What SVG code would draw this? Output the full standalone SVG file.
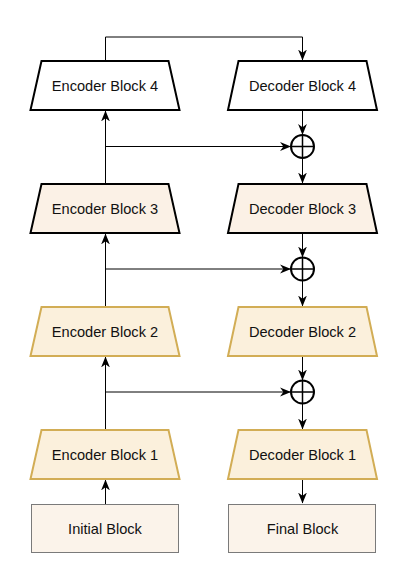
<svg xmlns="http://www.w3.org/2000/svg" width="408" height="586" viewBox="0 0 408 586">
<style>
  .lbl{font-family:"Liberation Sans",Arial,sans-serif;font-size:14.6px;fill:#111;text-anchor:middle;dominant-baseline:central}
  .t4{fill:#ffffff;stroke:#000;stroke-width:2}
  .t3{fill:#fbf1e6;stroke:#000;stroke-width:2}
  .ty{fill:#fbf0dc;stroke:#d2ad55;stroke-width:2}
  .rb{fill:#fbf3ea;stroke:#7a7a7a;stroke-width:1}
  .ring{fill:none;stroke:#000;stroke-width:2}
  .cross{fill:none;stroke:#000;stroke-width:1.5}
  .c{fill:none;stroke:#000;stroke-width:1;marker-end:url(#arr)}
</style>
<defs>
  <marker id="arr" viewBox="0 0 10 10" refX="9.5" refY="5" markerWidth="11" markerHeight="11" markerUnits="userSpaceOnUse" orient="auto">
    <path d="M0,1 L10,5 L0,9 L3,5 z" fill="#000"/>
  </marker>
</defs>
<rect width="408" height="586" fill="#fff"/>
<g id="connectors">
  <path class="c" d="M105.5,504 V480"/>
  <path class="c" d="M105.5,430 V357"/>
  <path class="c" d="M105.5,392 H290.5"/>
  <path class="c" d="M105.5,307 V234"/>
  <path class="c" d="M105.5,269 H290.5"/>
  <path class="c" d="M105.5,184 V111"/>
  <path class="c" d="M105.5,146.5 H290.5"/>
  <path class="c" d="M105.5,61 V37 H302.5 V60"/>
  <path class="c" d="M302.5,110 V134.5"/>
  <path class="c" d="M302.5,158 V183"/>
  <path class="c" d="M302.5,233 V257"/>
  <path class="c" d="M302.5,280.5 V306"/>
  <path class="c" d="M302.5,356 V380"/>
  <path class="c" d="M302.5,403.5 V429"/>
  <path class="c" d="M302.5,479 V503"/>
</g>
<g id="enc4"><path class="t4" d="M41.5,61 H168.5 L179.5,110 H30.5 Z"/><text class="lbl" x="105" y="86">Encoder Block 4</text></g>
<g id="dec4"><path class="t4" d="M238.5,61 H366.5 L377,110 H228 Z"/><text class="lbl" x="302.5" y="86">Decoder Block 4</text></g>
<g id="enc3"><path class="t3" d="M41.5,184 H168.5 L179.5,233 H30.5 Z"/><text class="lbl" x="105" y="209">Encoder Block 3</text></g>
<g id="dec3"><path class="t3" d="M238.5,184 H366.5 L377,233 H228 Z"/><text class="lbl" x="302.5" y="209">Decoder Block 3</text></g>
<g id="enc2"><path class="ty" d="M41.5,307 H168.5 L179.5,356 H30.5 Z"/><text class="lbl" x="105" y="332">Encoder Block 2</text></g>
<g id="dec2"><path class="ty" d="M238.5,307 H366.5 L377,356 H228 Z"/><text class="lbl" x="302.5" y="332">Decoder Block 2</text></g>
<g id="enc1"><path class="ty" d="M41.5,430 H168.5 L179.5,479 H30.5 Z"/><text class="lbl" x="105" y="455">Encoder Block 1</text></g>
<g id="dec1"><path class="ty" d="M238.5,430 H366.5 L377,479 H228 Z"/><text class="lbl" x="302.5" y="455">Decoder Block 1</text></g>
<g id="initial"><rect class="rb" x="31.5" y="504.5" width="147" height="48"/><text class="lbl" x="105" y="529">Initial Block</text></g>
<g id="final"><rect class="rb" x="228.5" y="504.5" width="147" height="48"/><text class="lbl" x="302.5" y="529">Final Block</text></g>
<g id="add4"><circle class="ring" cx="302.5" cy="146.5" r="11.5"/><path class="cross" d="M291,146.5 H314 M302.5,135 V158"/></g>
<g id="add3"><circle class="ring" cx="302.5" cy="269" r="11.5"/><path class="cross" d="M291,269 H314 M302.5,257.5 V280.5"/></g>
<g id="add2"><circle class="ring" cx="302.5" cy="392" r="11.5"/><path class="cross" d="M291,392 H314 M302.5,380.5 V403.5"/></g>
</svg>
